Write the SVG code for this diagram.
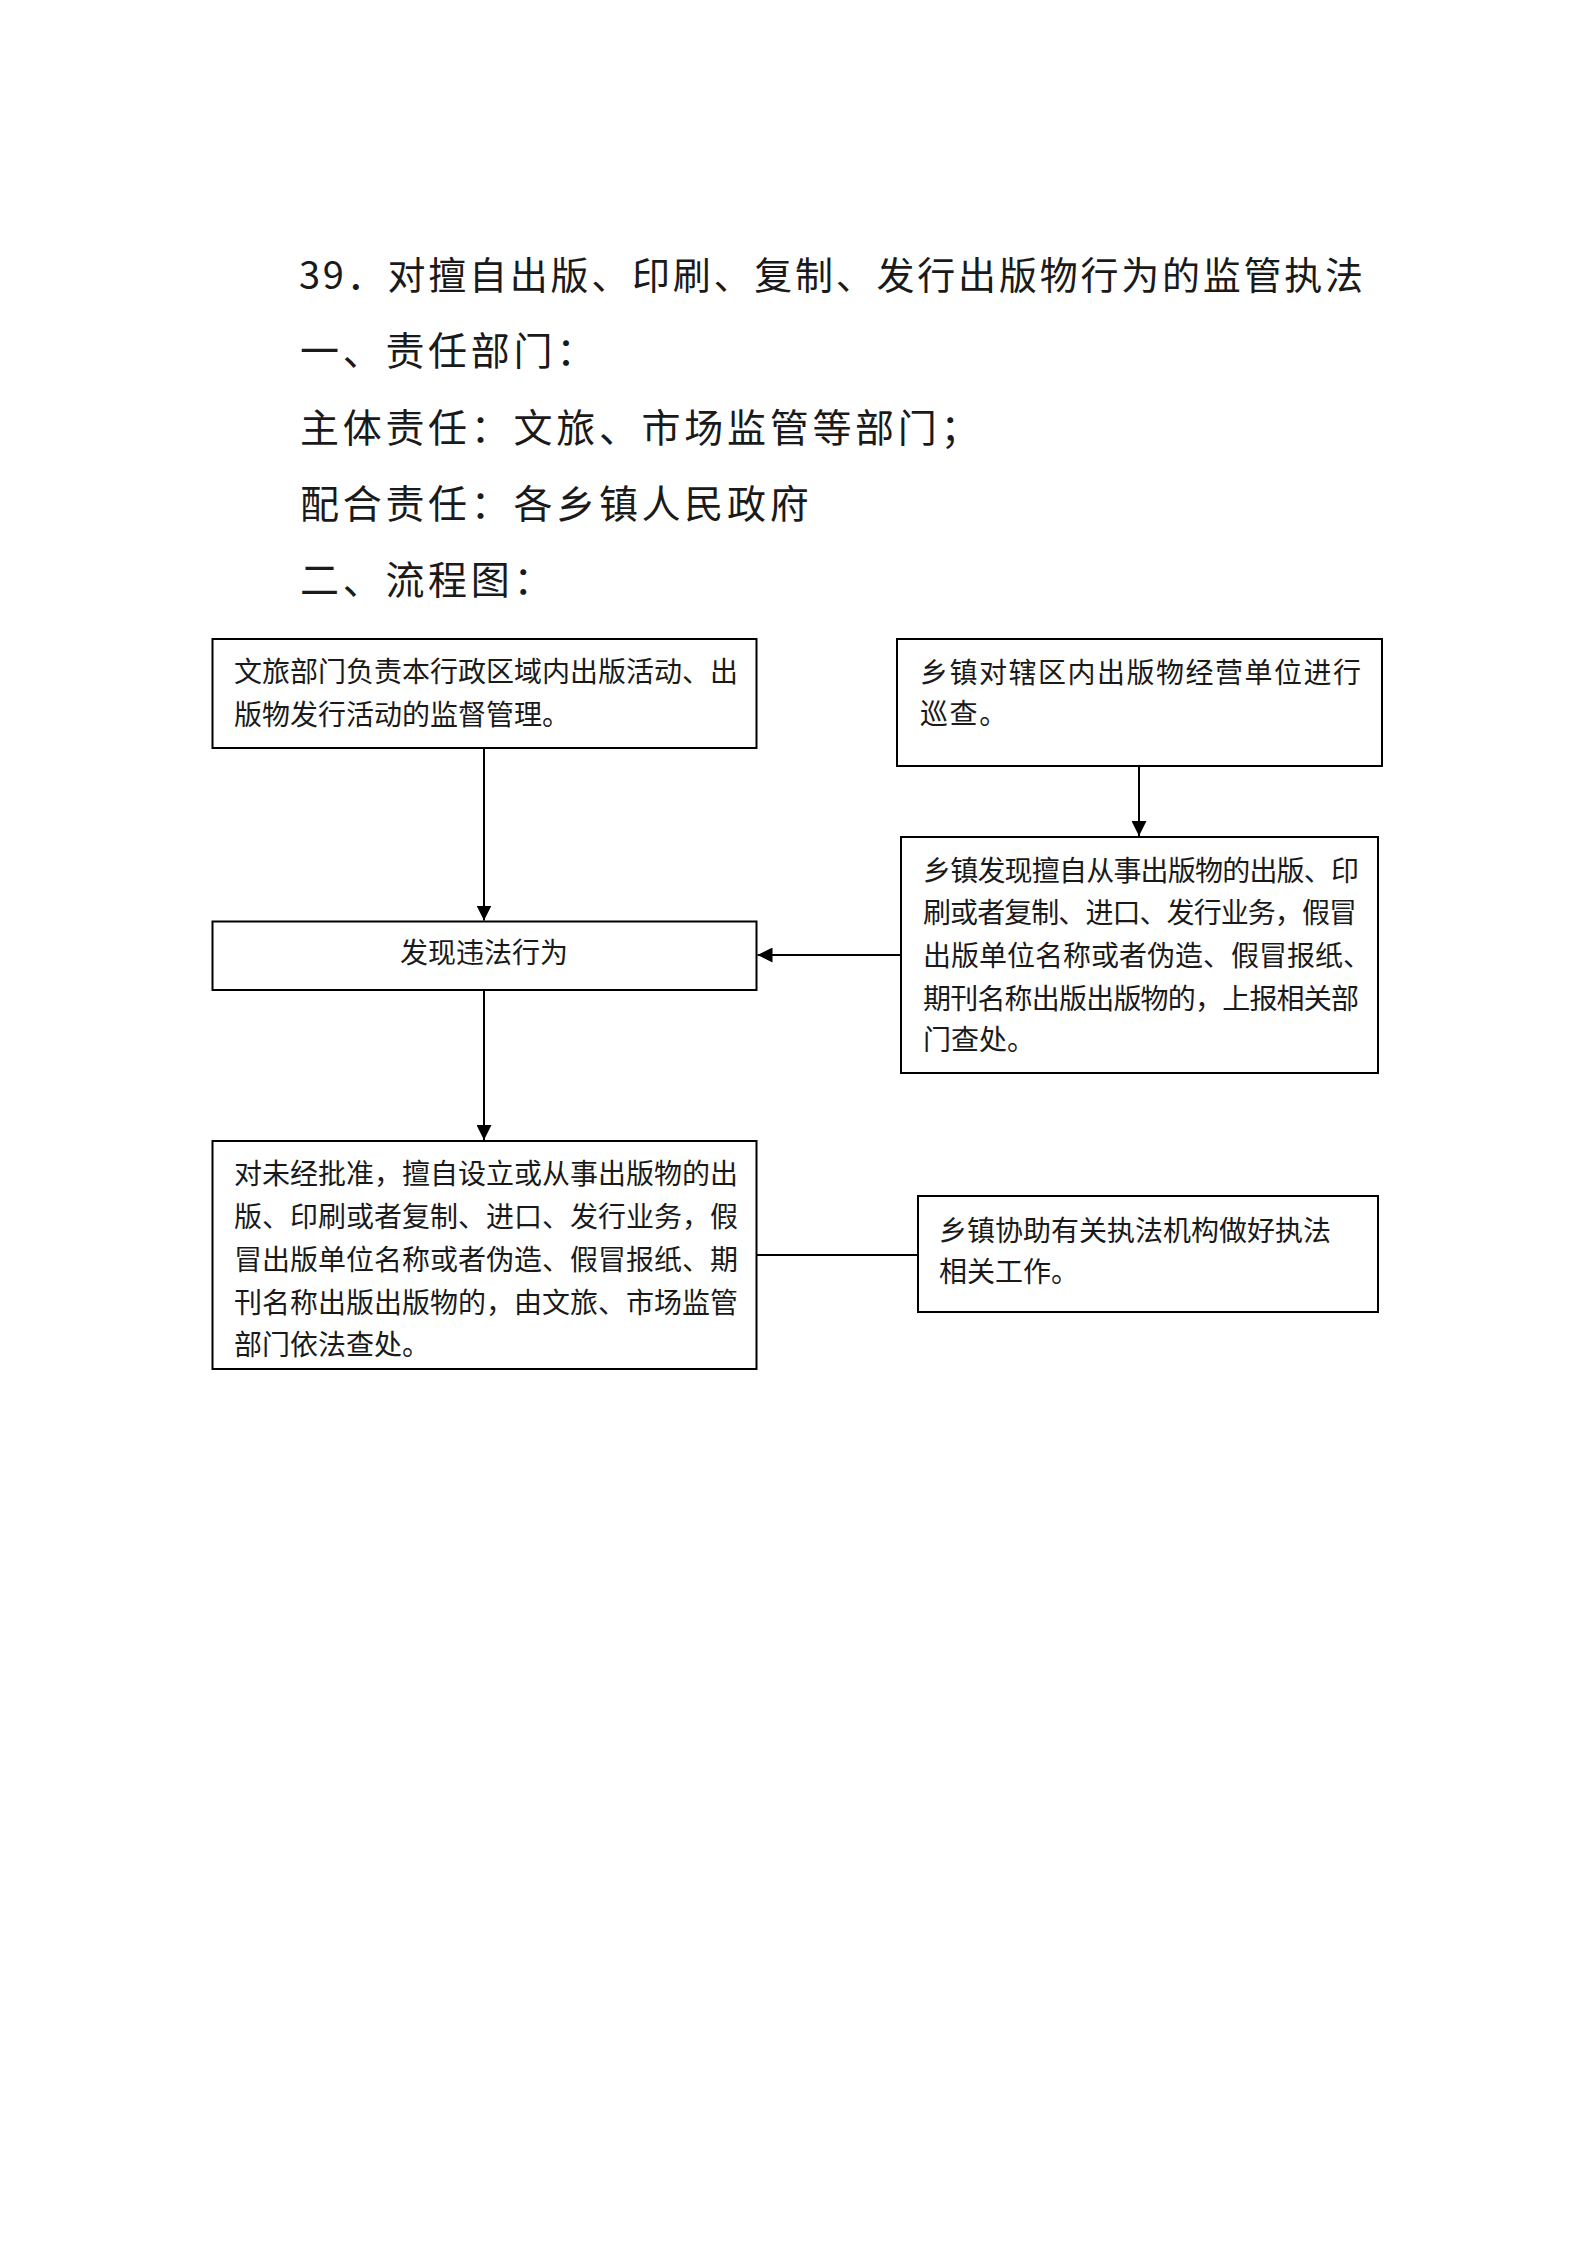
<svg xmlns="http://www.w3.org/2000/svg" width="1587" height="2245" viewBox="0 0 1587 2245">
<style>
.bg{fill:#ffffff}
.box{fill:#ffffff;stroke:#000000;stroke-width:2}
.t{font-family:"Noto Sans CJK SC","Liberation Sans",sans-serif;font-size:28px;fill:#1a1a1a}
.h{font-family:"Noto Sans CJK SC","Liberation Sans",sans-serif;font-size:39px;fill:#1a1a1a;letter-spacing:3.7px}
.title{font-family:"Noto Sans CJK SC","Liberation Sans",sans-serif;font-size:38px;fill:#1a1a1a}
.c{fill:none;stroke:#000000;stroke-width:2}
</style>
<defs>
<marker id="arr" viewBox="0 0 10 10" refX="10" refY="5" markerWidth="15" markerHeight="15" markerUnits="userSpaceOnUse" orient="auto">
<path d="M0,0 L10,5 L0,10 Z" fill="#000000"/>
</marker>
</defs>
<rect class="bg" x="0" y="0" width="1587" height="2245"/>
<g id="headings">
<text class="title" x="299" y="289" textLength="1064" lengthAdjust="spacing">39．对擅自出版、印刷、复制、发行出版物行为的监管执法</text>
<text class="h" x="300" y="365">一、责任部门：</text>
<text class="h" x="300" y="442">主体责任：文旅、市场监管等部门；</text>
<text class="h" x="300" y="518">配合责任：各乡镇人民政府</text>
<text class="h" x="300" y="594">二、流程图：</text>
</g>
<g id="connectors">
<line class="c" x1="484" y1="748" x2="484" y2="920.5" marker-end="url(#arr)"/>
<line class="c" x1="1139" y1="766" x2="1139" y2="836" marker-end="url(#arr)"/>
<line class="c" x1="901" y1="955" x2="757.5" y2="955" marker-end="url(#arr)"/>
<line class="c" x1="484" y1="990" x2="484" y2="1140" marker-end="url(#arr)"/>
<line class="c" x1="757" y1="1255" x2="918" y2="1255"/>
</g>
<g id="node1">
<rect class="box" x="212.5" y="639" width="544" height="109"/>
<text class="t" x="234" y="682">文旅部门负责本行政区域内出版活动、出</text>
<text class="t" x="234" y="725">版物发行活动的监督管理。</text>
</g>
<g id="node2">
<rect class="box" x="212.5" y="921.5" width="544" height="68.5"/>
<text class="t" x="484" y="963" text-anchor="middle">发现违法行为</text>
</g>
<g id="node3">
<rect class="box" x="897" y="639" width="485" height="127"/>
<text class="t" x="920" y="683" textLength="441" lengthAdjust="spacing">乡镇对辖区内出版物经营单位进行</text>
<text class="t" x="920" y="724" letter-spacing="1.6">巡查。</text>
</g>
<g id="node4">
<rect class="box" x="901" y="837" width="477" height="236"/>
<text class="t" x="923" y="881" textLength="436" lengthAdjust="spacing">乡镇发现擅自从事出版物的出版、印</text>
<text class="t" x="923" y="923" textLength="434" lengthAdjust="spacing">刷或者复制、进口、发行业务，假冒</text>
<text class="t" x="923" y="966">出版单位名称或者伪造、假冒报纸、</text>
<text class="t" x="923" y="1009" textLength="436" lengthAdjust="spacing">期刊名称出版出版物的，上报相关部</text>
<text class="t" x="923" y="1050">门查处。</text>
</g>
<g id="node5">
<rect class="box" x="212.5" y="1141" width="544" height="228"/>
<text class="t" x="234" y="1184">对未经批准，擅自设立或从事出版物的出</text>
<text class="t" x="234" y="1227">版、印刷或者复制、进口、发行业务，假</text>
<text class="t" x="234" y="1270">冒出版单位名称或者伪造、假冒报纸、期</text>
<text class="t" x="234" y="1313">刊名称出版出版物的，由文旅、市场监管</text>
<text class="t" x="234" y="1355">部门依法查处。</text>
</g>
<g id="node6">
<rect class="box" x="918" y="1196" width="460" height="116"/>
<text class="t" x="939" y="1241">乡镇协助有关执法机构做好执法</text>
<text class="t" x="939" y="1282">相关工作。</text>
</g>
</svg>
